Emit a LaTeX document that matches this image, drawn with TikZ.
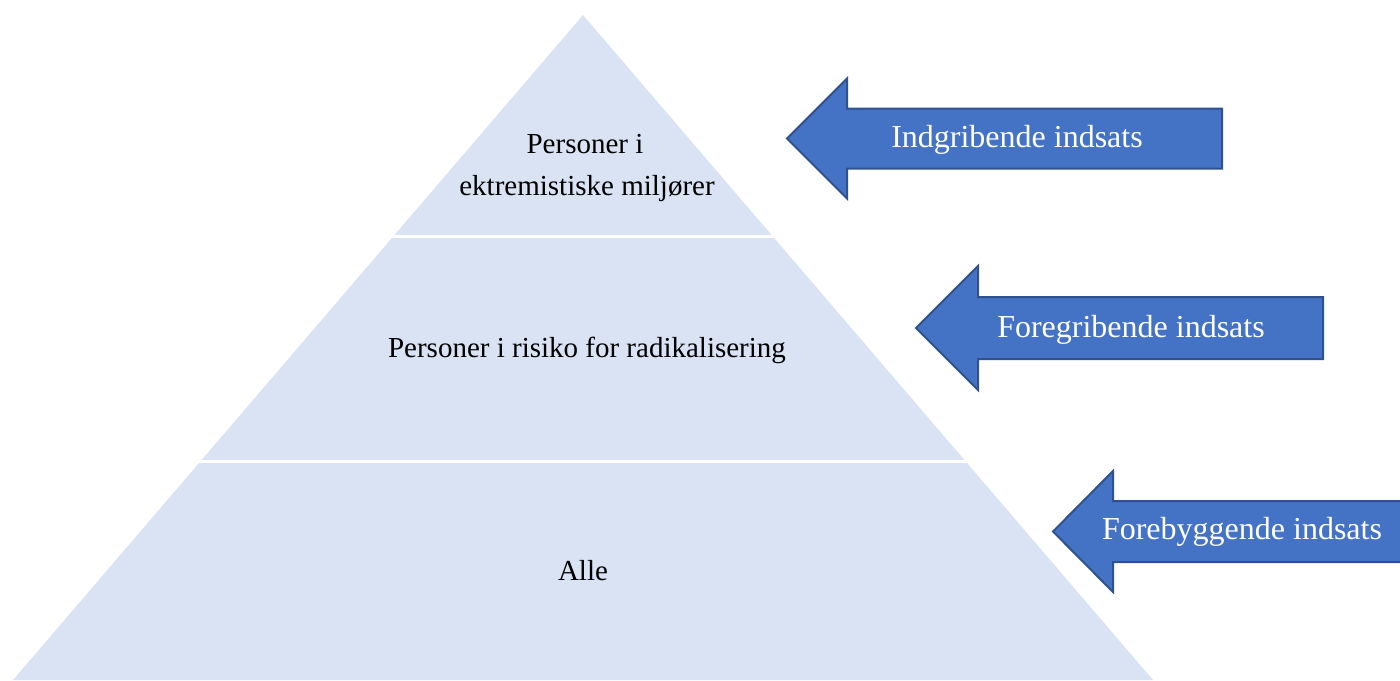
\documentclass[tikz,border=0pt]{standalone}
\usepackage{fontspec}
\setmainfont{Liberation Serif}
\usepackage{tikz}
\usetikzlibrary{calc}
\definecolor{levelblue}{HTML}{DAE3F3}
\definecolor{effortblue}{HTML}{4472C4}
\definecolor{effortedge}{HTML}{2F528F}
\tikzset{
  level/.style={fill=levelblue, draw=none},
  levelgap/.style={draw=white, line width=3pt, shorten <=-4pt, shorten >=-4pt},
  leveltext/.style={font=\fontsize{29}{42}\selectfont, align=center, text=black, inner sep=0pt, anchor=base},
  effort/.style={fill=effortblue, draw=effortedge, line width=2pt, line join=miter},
  efforttext/.style={font=\fontsize{32}{38}\selectfont, text=white, inner sep=0pt, anchor=base},
}

\begin{document}
\begin{tikzpicture}[x=1pt, y=-1pt]
\useasboundingbox (0,0) rectangle (1400,680);
\clip (0,0) rectangle (1400,680);

% Pyramid
\coordinate (apex) at (583,15);
\coordinate (baseL) at (13,680);
\coordinate (baseR) at (1153,680);
\fill[level] (apex) -- (baseR) -- (baseL) -- cycle;
\draw[levelgap] ($(apex)!0.3338!(baseL)$) -- ($(apex)!0.3338!(baseR)$);
\draw[levelgap] ($(apex)!0.6714!(baseL)$) -- ($(apex)!0.6714!(baseR)$);

\node[leveltext] (top) at (585,153) {Personer i};
\node[leveltext] (top2) at (587,195) {ektremistiske miljører};
\node[leveltext] (mid) at (587,357) {Personer i risiko for radikalisering};
\node[leveltext] (bottom) at (583,580) {Alle};

% Efforts
\draw[effort] (787,138.5) -- (847,78.5) -- (847,108.5) -- (1222,108.5)
  -- (1222,168.5) -- (847,168.5) -- (847,198.5) -- cycle;
\node[efforttext] (intervene) at (1017,147) {Indgribende indsats};

\draw[effort] (916,328) -- (978,266) -- (978,297) -- (1323,297)
  -- (1323,359) -- (978,359) -- (978,390) -- cycle;
\node[efforttext] (anticipate) at (1131,337) {Foregribende indsats};

\draw[effort] (1053,531.5) -- (1113,471) -- (1113,501) -- (1420,501)
  -- (1420,562) -- (1113,562) -- (1113,592) -- cycle;
\node[efforttext] (prevent) at (1242,539) {Forebyggende indsats};

\end{tikzpicture}
\end{document}
